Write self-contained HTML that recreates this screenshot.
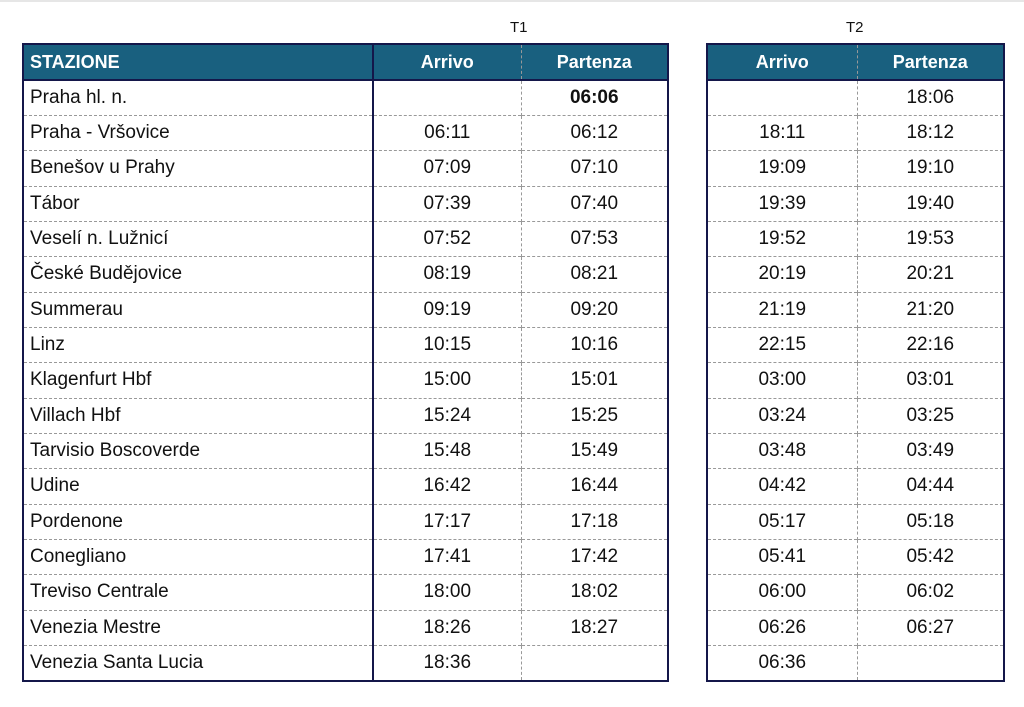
<!DOCTYPE html>
<html><head><meta charset="utf-8"><style>
body{margin:0;width:1024px;height:707px;background:#fff;position:relative;overflow:hidden;font-family:"Liberation Sans",Arial,sans-serif;}
.topline{position:absolute;left:0;top:0;width:1024px;height:2px;background:#e6e6e6;}
.lbl{position:absolute;top:19px;font-size:15px;color:#111;}
table{position:absolute;top:43px;border-collapse:collapse;border:2px solid #14174a;table-layout:fixed;}
td,th{height:35.35px;padding:0;font-size:19px;color:#111;text-align:center;border-top:1px dashed #999;border-left:1px dashed #999;box-sizing:border-box;}
th{height:36px;background:#19607f;color:#fff;font-weight:bold;font-size:18px;border-top:none;border-bottom:2px solid #14174a;}
td.s,th.s{text-align:left;padding-left:6px;}
.sep{border-left:2px solid #14174a;}
tr:nth-child(2) td{border-top:none;}
</style></head><body>
<div class="topline"></div>
<div class="lbl" style="left:510px">T1</div>
<div class="lbl" style="left:846px">T2</div>
<table style="left:22px;width:645px">
<colgroup><col style="width:350px"><col style="width:148px"><col style="width:147px"></colgroup>
<tr><th class="s">STAZIONE</th><th class="sep">Arrivo</th><th>Partenza</th></tr>
<tr><td class="s">Praha hl. n.</td><td class="sep"></td><td><b>06:06</b></td></tr>
<tr><td class="s">Praha - Vršovice</td><td class="sep">06:11</td><td>06:12</td></tr>
<tr><td class="s">Benešov u Prahy</td><td class="sep">07:09</td><td>07:10</td></tr>
<tr><td class="s">Tábor</td><td class="sep">07:39</td><td>07:40</td></tr>
<tr><td class="s">Veselí n. Lužnicí</td><td class="sep">07:52</td><td>07:53</td></tr>
<tr><td class="s">České Budějovice</td><td class="sep">08:19</td><td>08:21</td></tr>
<tr><td class="s">Summerau</td><td class="sep">09:19</td><td>09:20</td></tr>
<tr><td class="s">Linz</td><td class="sep">10:15</td><td>10:16</td></tr>
<tr><td class="s">Klagenfurt Hbf</td><td class="sep">15:00</td><td>15:01</td></tr>
<tr><td class="s">Villach Hbf</td><td class="sep">15:24</td><td>15:25</td></tr>
<tr><td class="s">Tarvisio Boscoverde</td><td class="sep">15:48</td><td>15:49</td></tr>
<tr><td class="s">Udine</td><td class="sep">16:42</td><td>16:44</td></tr>
<tr><td class="s">Pordenone</td><td class="sep">17:17</td><td>17:18</td></tr>
<tr><td class="s">Conegliano</td><td class="sep">17:41</td><td>17:42</td></tr>
<tr><td class="s">Treviso Centrale</td><td class="sep">18:00</td><td>18:02</td></tr>
<tr><td class="s">Venezia Mestre</td><td class="sep">18:26</td><td>18:27</td></tr>
<tr><td class="s">Venezia Santa Lucia</td><td class="sep">18:36</td><td></td></tr>
</table>
<table style="left:706px;width:297px">
<colgroup><col style="width:150px"><col style="width:147px"></colgroup>
<tr><th>Arrivo</th><th>Partenza</th></tr>
<tr><td></td><td>18:06</td></tr>
<tr><td>18:11</td><td>18:12</td></tr>
<tr><td>19:09</td><td>19:10</td></tr>
<tr><td>19:39</td><td>19:40</td></tr>
<tr><td>19:52</td><td>19:53</td></tr>
<tr><td>20:19</td><td>20:21</td></tr>
<tr><td>21:19</td><td>21:20</td></tr>
<tr><td>22:15</td><td>22:16</td></tr>
<tr><td>03:00</td><td>03:01</td></tr>
<tr><td>03:24</td><td>03:25</td></tr>
<tr><td>03:48</td><td>03:49</td></tr>
<tr><td>04:42</td><td>04:44</td></tr>
<tr><td>05:17</td><td>05:18</td></tr>
<tr><td>05:41</td><td>05:42</td></tr>
<tr><td>06:00</td><td>06:02</td></tr>
<tr><td>06:26</td><td>06:27</td></tr>
<tr><td>06:36</td><td></td></tr>
</table>
</body></html>
